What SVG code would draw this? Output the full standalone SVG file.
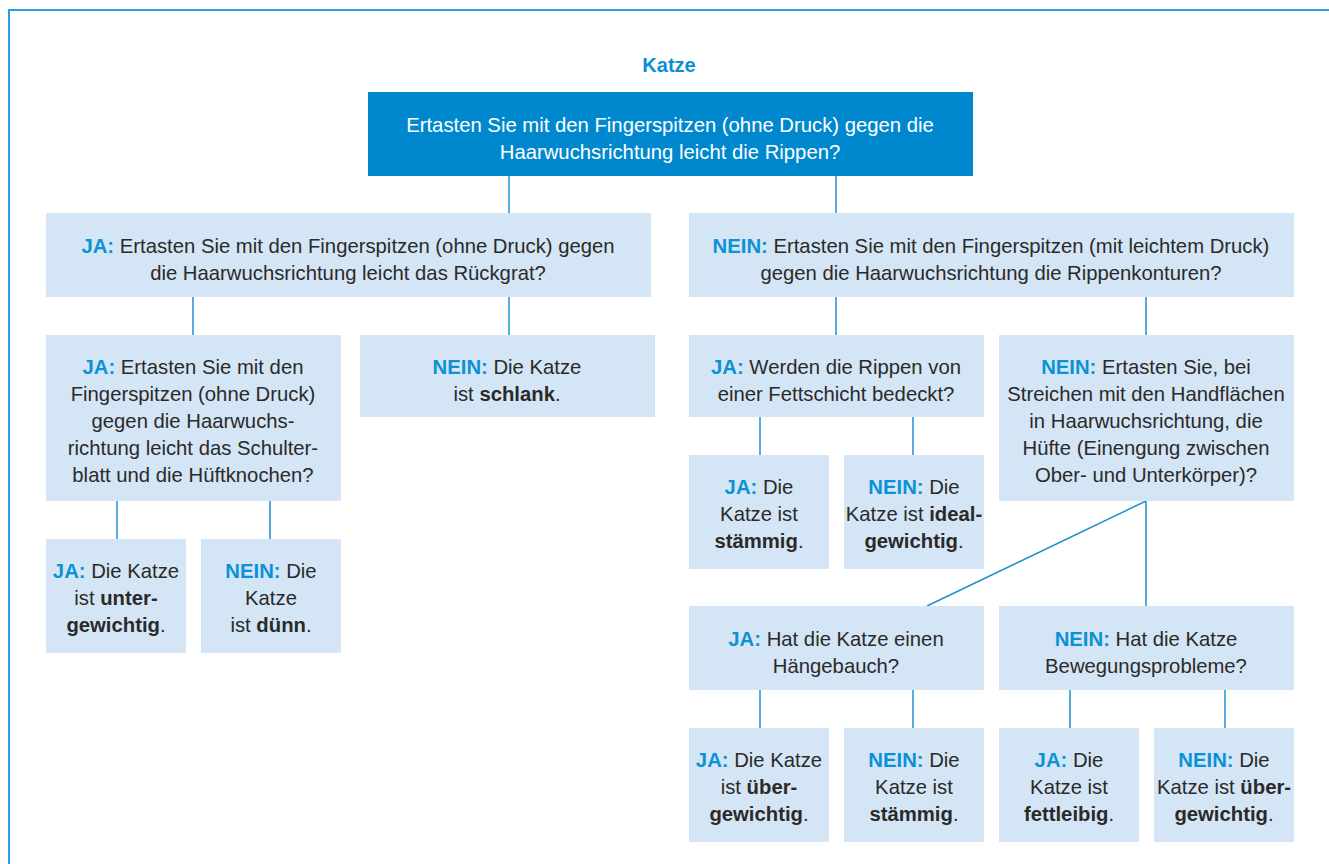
<svg xmlns="http://www.w3.org/2000/svg" width="1329" height="864" viewBox="0 0 1329 864">
<style>
.frame{fill:none;stroke:#2a9ee0;stroke-width:2}
.box{fill:#d4e5f5}
.top{fill:#0088cf}
.con{stroke:#1f8fd4;stroke-width:1.5;fill:none}
text{font-family:"Liberation Sans",Arial,sans-serif;font-size:20.3px;fill:#2b2a29;text-anchor:middle}
.w{fill:#ffffff}
.l{fill:#0b92d5;font-weight:bold}
.b{font-weight:bold}
.title{fill:#0b8fd3;font-weight:bold;font-size:20px}
</style>
<rect width="1329" height="864" fill="#ffffff"/>
<path class="frame" d="M9,864 V10 H1329"/>
<text class="title" x="669" y="72">Katze</text>

<g id="connectors">
<line class="con" x1="509" y1="176" x2="509" y2="213"/>
<line class="con" x1="836" y1="176" x2="836" y2="213"/>
<line class="con" x1="193" y1="297" x2="193" y2="335"/>
<line class="con" x1="509" y1="297" x2="509" y2="335"/>
<line class="con" x1="836" y1="297" x2="836" y2="335"/>
<line class="con" x1="1146" y1="297" x2="1146" y2="335"/>
<line class="con" x1="117" y1="501" x2="117" y2="539"/>
<line class="con" x1="270" y1="501" x2="270" y2="539"/>
<line class="con" x1="760" y1="417" x2="760" y2="455"/>
<line class="con" x1="913" y1="417" x2="913" y2="455"/>
<line class="con" x1="1146" y1="501" x2="927" y2="606"/>
<line class="con" x1="1146" y1="501" x2="1146" y2="606"/>
<line class="con" x1="760" y1="690" x2="760" y2="728"/>
<line class="con" x1="913" y1="690" x2="913" y2="728"/>
<line class="con" x1="1070" y1="690" x2="1070" y2="728"/>
<line class="con" x1="1225" y1="690" x2="1225" y2="728"/>
</g>

<g id="q-root">
<rect class="top" x="368" y="92" width="605" height="84"/>
<text class="w" x="670" y="132">Ertasten Sie mit den Fingerspitzen (ohne Druck) gegen die</text>
<text class="w" x="670" y="159">Haarwuchsrichtung leicht die Rippen?</text>
</g>

<g id="q-ja-rueckgrat">
<rect class="box" x="46" y="213" width="605" height="84"/>
<text x="348" y="253"><tspan class="l">JA:</tspan> Ertasten Sie mit den Fingerspitzen (ohne Druck) gegen</text>
<text x="348" y="280">die Haarwuchsrichtung leicht das Rückgrat?</text>
</g>

<g id="q-nein-rippenkonturen">
<rect class="box" x="689" y="213" width="605" height="84"/>
<text x="991" y="253"><tspan class="l">NEIN:</tspan> Ertasten Sie mit den Fingerspitzen (mit leichtem Druck)</text>
<text x="991" y="280">gegen die Haarwuchsrichtung die Rippenkonturen?</text>
</g>

<g id="q-ja-schulterblatt">
<rect class="box" x="46" y="335" width="295" height="166"/>
<text x="193" y="374"><tspan class="l">JA:</tspan> Ertasten Sie mit den</text>
<text x="193" y="401">Fingerspitzen (ohne Druck)</text>
<text x="193" y="428">gegen die Haarwuchs-</text>
<text x="193" y="455">richtung leicht das Schulter-</text>
<text x="193" y="482">blatt und die Hüftknochen?</text>
</g>

<g id="r-schlank">
<rect class="box" x="360" y="335" width="295" height="82"/>
<text x="507" y="374"><tspan class="l">NEIN:</tspan> Die Katze</text>
<text x="507" y="401">ist <tspan class="b">schlank</tspan>.</text>
</g>

<g id="q-ja-fettschicht">
<rect class="box" x="689" y="335" width="295" height="82"/>
<text x="836" y="374"><tspan class="l">JA:</tspan> Werden die Rippen von</text>
<text x="836" y="401">einer Fettschicht bedeckt?</text>
</g>

<g id="q-nein-huefte">
<rect class="box" x="999" y="335" width="295" height="166"/>
<text x="1146" y="374"><tspan class="l">NEIN:</tspan> Ertasten Sie, bei</text>
<text x="1146" y="401">Streichen mit den Handflächen</text>
<text x="1146" y="428">in Haarwuchsrichtung, die</text>
<text x="1146" y="455">Hüfte (Einengung zwischen</text>
<text x="1146" y="482">Ober- und Unterkörper)?</text>
</g>

<g id="r-untergewichtig">
<rect class="box" x="46" y="539" width="140" height="114"/>
<text x="116" y="578"><tspan class="l">JA:</tspan> Die Katze</text>
<text x="116" y="605">ist <tspan class="b">unter-</tspan></text>
<text x="116" y="632"><tspan class="b">gewichtig</tspan>.</text>
</g>

<g id="r-duenn">
<rect class="box" x="201" y="539" width="140" height="114"/>
<text x="271" y="578"><tspan class="l">NEIN:</tspan> Die</text>
<text x="271" y="605">Katze</text>
<text x="271" y="632">ist <tspan class="b">dünn</tspan>.</text>
</g>

<g id="r-staemmig-1">
<rect class="box" x="689" y="455" width="140" height="114"/>
<text x="759" y="494"><tspan class="l">JA:</tspan> Die</text>
<text x="759" y="521">Katze ist</text>
<text x="759" y="548"><tspan class="b">stämmig</tspan>.</text>
</g>

<g id="r-idealgewichtig">
<rect class="box" x="844" y="455" width="140" height="114"/>
<text x="914" y="494"><tspan class="l">NEIN:</tspan> Die</text>
<text x="914" y="521">Katze ist <tspan class="b">ideal-</tspan></text>
<text x="914" y="548"><tspan class="b">gewichtig</tspan>.</text>
</g>

<g id="q-ja-haengebauch">
<rect class="box" x="689" y="606" width="295" height="84"/>
<text x="836" y="646"><tspan class="l">JA:</tspan> Hat die Katze einen</text>
<text x="836" y="673">Hängebauch?</text>
</g>

<g id="q-nein-bewegung">
<rect class="box" x="999" y="606" width="295" height="84"/>
<text x="1146" y="646"><tspan class="l">NEIN:</tspan> Hat die Katze</text>
<text x="1146" y="673">Bewegungsprobleme?</text>
</g>

<g id="r-uebergewichtig-1">
<rect class="box" x="689" y="728" width="140" height="114"/>
<text x="759" y="767"><tspan class="l">JA:</tspan> Die Katze</text>
<text x="759" y="794">ist <tspan class="b">über-</tspan></text>
<text x="759" y="821"><tspan class="b">gewichtig</tspan>.</text>
</g>

<g id="r-staemmig-2">
<rect class="box" x="844" y="728" width="140" height="114"/>
<text x="914" y="767"><tspan class="l">NEIN:</tspan> Die</text>
<text x="914" y="794">Katze ist</text>
<text x="914" y="821"><tspan class="b">stämmig</tspan>.</text>
</g>

<g id="r-fettleibig">
<rect class="box" x="999" y="728" width="140" height="114"/>
<text x="1069" y="767"><tspan class="l">JA:</tspan> Die</text>
<text x="1069" y="794">Katze ist</text>
<text x="1069" y="821"><tspan class="b">fettleibig</tspan>.</text>
</g>

<g id="r-uebergewichtig-2">
<rect class="box" x="1154" y="728" width="140" height="114"/>
<text x="1224" y="767"><tspan class="l">NEIN:</tspan> Die</text>
<text x="1224" y="794">Katze ist <tspan class="b">über-</tspan></text>
<text x="1224" y="821"><tspan class="b">gewichtig</tspan>.</text>
</g>
</svg>
